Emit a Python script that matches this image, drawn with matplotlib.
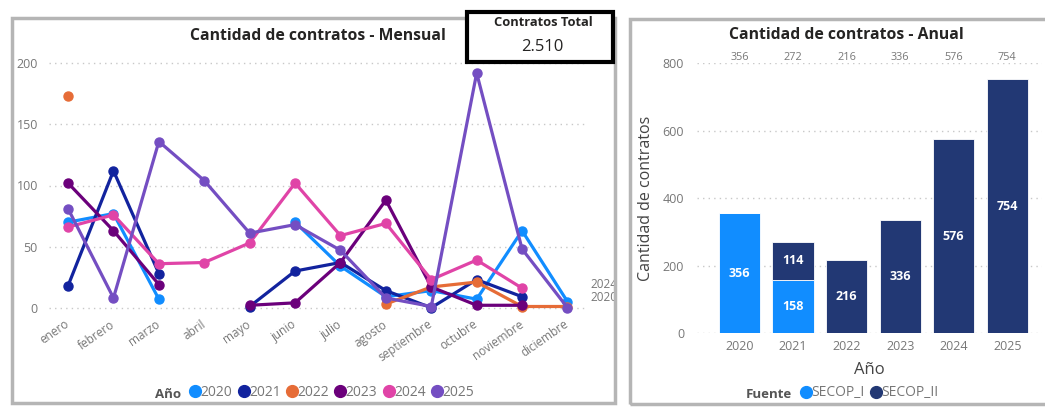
import numpy as np
import matplotlib
matplotlib.use("Agg")
import matplotlib.pyplot as plt
from matplotlib.patches import Rectangle
from matplotlib.lines import Line2D

plt.rcParams['font.family'] = ['Open Sans', 'DejaVu Sans']

# ---- data ----
meses = ['enero', 'febrero', 'marzo', 'abril', 'mayo', 'junio', 'julio',
         'agosto', 'septiembre', 'octubre', 'noviembre', 'diciembre']
nan = np.nan
y2020 = [70, 77, 7, nan, nan, 70, 34, 9, 14, 7, 63, 5]
y2021 = [18, 112, 28, nan, 1, 30, 37, 14, 0, 23, 9, nan]
y2022 = [173, nan, nan, nan, nan, nan, nan, 3, 17, 21, 1, 1]
y2023 = [102, 63, 19, nan, 2, 4, 37, 88, 17, 2, 2, nan]
y2024 = [66, 76, 36, 37, 53, 102, 59, 69, 23, 39, 16, nan]
y2025 = [81, 8, 136, 104, 61, 68, 47, 8, 1, 192, 48, 0]
anios_lineas = ['2020', '2021', '2022', '2023', '2024', '2025']
colores_lineas = ['#118DFF', '#12239E', '#E66C37', '#6B007B', '#E044A7', '#744EC2']

anios = ['2020', '2021', '2022', '2023', '2024', '2025']
secop_i = [356, 158, 0, 0, 0, 0]
secop_ii = [0, 114, 216, 336, 576, 754]
total_contratos = 2510

W, H = 1045, 408
fig = plt.figure(figsize=(W / 100, H / 100), dpi=100)
fig.patch.set_facecolor('white')


def fx(px):
    return px / W


def fy(py):
    return 1 - py / H


# panel borders
fig.add_artist(Rectangle((fx(12), fy(403)), fx(603), (403 - 18) / H, transform=fig.transFigure,
                         fill=False, edgecolor='#b5b5b5', lw=2.5))
fig.add_artist(Rectangle((fx(630), fy(404)), fx(430), (404 - 19) / H, transform=fig.transFigure,
                         fill=False, edgecolor='#b5b5b5', lw=2.5))

grey = '#777777'

# ---------------- left: monthly lines ----------------
ax = fig.add_axes([fx(49), fy(317.5), fx(587 - 49), (317.5 - 53.5) / H])
ax.set_xlim(-0.42, 11.43)
ax.set_ylim(-8, 208)
x = np.arange(len(meses))
series = [y2020, y2021, y2022, y2023, y2024, y2025]
handles = []
for nombre, vals, c in zip(anios_lineas, series, colores_lineas):
    ax.plot(x, np.array(vals, dtype=float), color=c, lw=2.3, marker='o', ms=6.5,
            solid_capstyle='round')
    handles.append(Line2D([], [], color=c, marker='o', ls='', ms=8.5, label=nombre))
ax.set_yticks([0, 50, 100, 150, 200])
ax.yaxis.grid(True, ls=(0, (1, 3)), color='#c8c8c8', lw=1)
ax.set_axisbelow(True)
ax.set_xticks(x)
ax.set_xticklabels(meses, rotation=35, ha='right', va='center', rotation_mode='anchor',
                   color=grey, fontsize=8.5)
for s in ax.spines.values():
    s.set_visible(False)
ax.tick_params(length=0, colors=grey, labelsize=9)
ax.tick_params(axis='x', pad=4, labelsize=8.5)
ax.tick_params(axis='y', pad=8)
for lbl in ax.get_xticklabels():
    lbl.set_va('center')
ax.text(11.5, 18.6, '2024', color=grey, fontsize=8.5, va='center', clip_on=False)
ax.text(11.5, 8, '2020', color=grey, fontsize=8.5, va='center', clip_on=False)

fig.text(fx(318), fy(36), 'Cantidad de contratos - Mensual', ha='center', va='center',
         fontsize=11.3, fontweight='bold', color='#252423')

# legend
fig.text(fx(181), fy(394), 'Año', ha='right', va='center', fontsize=9.5, fontweight='bold', color='#555555')
fig.legend(handles=handles, loc='center left', bbox_to_anchor=(fx(191), fy(392)), ncol=6,
           frameon=False, handlelength=0.6, handletextpad=0.1, columnspacing=0.5,
           fontsize=10, labelcolor=grey, borderaxespad=0, borderpad=0)

# total card
fig.add_artist(Rectangle((fx(467), fy(62)), fx(613 - 467), (62 - 12) / H, transform=fig.transFigure,
                         facecolor='white', edgecolor='black', lw=3, zorder=5))
fig.text(fx(543), fy(22), 'Contratos Total', ha='center', va='center', fontsize=9.3,
         fontweight='bold', color='#252423', zorder=6)
fig.text(fx(542), fy(47), f'{total_contratos:,}'.replace(',', '.'), ha='center', va='center',
         fontsize=12, color='#252423', zorder=6)

# ---------------- right: annual stacked bars ----------------
bx = fig.add_axes([fx(696.7), fy(333.3), fx(1042 - 696.7), (333.3 - 63.3) / H])
xb = np.arange(len(anios))
bx.set_xlim(-0.8, 5.65)
bx.set_ylim(0, 800)
c1, c2 = '#118DFF', '#223874'
bx.bar(xb, secop_i, width=0.77, color=c1, edgecolor='white', lw=0.6)
bx.bar(xb, secop_ii, width=0.77, bottom=secop_i, color=c2, edgecolor='white', lw=0.6)
for i in range(len(anios)):
    if secop_i[i] > 0:
        bx.text(xb[i], secop_i[i] / 2, str(secop_i[i]), ha='center', va='center', color='white',
                fontsize=9, fontweight='bold')
    if secop_ii[i] > 0:
        bx.text(xb[i], secop_i[i] + secop_ii[i] / 2, str(secop_ii[i]), ha='center', va='center',
                color='white', fontsize=9, fontweight='bold')
    tot = secop_i[i] + secop_ii[i]
    bx.text(xb[i], 1.022, str(tot), transform=bx.get_xaxis_transform(), ha='center', va='center',
            color=grey, fontsize=7.8, clip_on=False)
bx.set_yticks([0, 200, 400, 600, 800])
bx.yaxis.grid(True, ls=(0, (1, 3)), color='#c8c8c8', lw=1)
bx.set_axisbelow(True)
bx.set_xticks(xb)
bx.set_xticklabels(anios)
for s in bx.spines.values():
    s.set_visible(False)
bx.tick_params(length=0, colors=grey, labelsize=9)
bx.tick_params(axis='y', pad=9)
bx.tick_params(axis='x', pad=5)
bx.set_xlabel('Año', fontsize=12, color='#444444', labelpad=6)
bx.set_ylabel('Cantidad de contratos', fontsize=11.5, color='#444444', labelpad=6)

fig.text(fx(846), fy(35), 'Cantidad de contratos - Anual', ha='center', va='center',
         fontsize=11.3, fontweight='bold', color='#252423')

fig.text(fx(792), fy(395), 'Fuente', ha='right', va='center', fontsize=9.5, fontweight='bold', color='#555555')
h2 = [Line2D([], [], color=c1, marker='o', ls='', ms=8.5, label='SECOP_I'),
      Line2D([], [], color=c2, marker='o', ls='', ms=8.5, label='SECOP_II')]
fig.legend(handles=h2, loc='center left', bbox_to_anchor=(fx(802), fy(393)), ncol=2,
           frameon=False, handlelength=0.6, handletextpad=0.1, columnspacing=0.5,
           fontsize=10, labelcolor=grey, borderaxespad=0, borderpad=0)

fig.savefig('out.png', dpi=100, facecolor='white')
